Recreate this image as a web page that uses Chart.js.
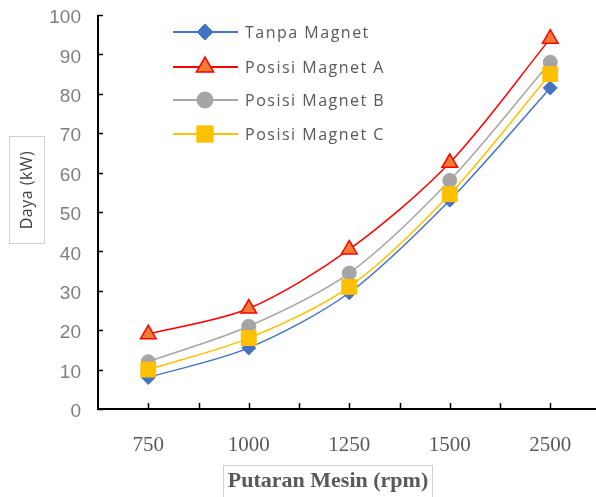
<!DOCTYPE html>
<html>
<head>
<meta charset="utf-8">
<script src="https://cdn.jsdelivr.net/npm/chart.js@4/dist/chart.umd.min.js"></script>
<style>
  html, body { margin: 0; padding: 0; background: #ffffff; overflow: hidden; }
  #wrap { width: 596px; height: 497px; overflow: hidden; }
</style>
</head>
<body>
<div id="wrap"><canvas id="c" width="612" height="497"></canvas></div>
<script>
const categories = ['750', '1000', '1250', '1500', '2500'];
const tanpaMagnet = [8, 15.5, 29.5, 53, 81.5];
const posisiA = [19, 25.5, 40.5, 62.5, 94];
const posisiB = [12, 21, 34.5, 58, 88];
const posisiC = [10, 18, 31, 54.5, 85];
const seriesNames = ['Tanpa Magnet', 'Posisi Magnet A', 'Posisi Magnet B', 'Posisi Magnet C'];
const yMin = 0, yMax = 100, yStep = 10;
const xTitle = 'Putaran Mesin (rpm)';
const yTitle = 'Daya (kW)';

const styles = [
  { line: '#4472C4', fill: '#4472C4', border: '#4472C4', point: 'rectRot', r: 7, bw: 1, order: 3 },
  { line: '#FF0000', fill: '#ED7D31', border: '#FF0000', point: 'triangle', r: 9, bw: 1.5, order: 2 },
  { line: '#A5A5A5', fill: '#A5A5A5', border: '#A5A5A5', point: 'circle', r: 7, bw: 1, order: 1 },
  { line: '#FFC000', fill: '#FFC000', border: '#FFC000', point: 'rect', r: 10.5, bw: 1, order: 0 }
];
const seriesData = [tanpaMagnet, posisiA, posisiB, posisiC];

const datasets = seriesData.map((d, i) => ({
  label: seriesNames[i],
  data: d,
  borderColor: styles[i].line,
  backgroundColor: styles[i].fill,
  pointBackgroundColor: styles[i].fill,
  pointBorderColor: styles[i].border,
  pointBorderWidth: styles[i].bw,
  pointStyle: styles[i].point,
  pointRadius: styles[i].r,
  pointHoverRadius: styles[i].r,
  borderWidth: 1.5,
  tension: 0.3,
  order: styles[i].order,
  fill: false,
  clip: false
}));

const decorPlugin = {
  id: 'decor',
  afterDraw(chart) {
    const ctx = chart.ctx;
    const area = chart.chartArea;
    const xs = chart.scales.x, ys = chart.scales.y;
    ctx.save();
    // axis lines
    ctx.strokeStyle = '#000000';
    ctx.lineWidth = 2;
    ctx.beginPath();
    ctx.moveTo(area.left, area.top);
    ctx.lineTo(area.left, area.bottom);
    ctx.lineTo(area.right + 12, area.bottom);
    ctx.stroke();
    // inward ticks on y
    ctx.lineWidth = 1.5;
    ctx.beginPath();
    for (let v = yMin; v <= yMax; v += yStep) {
      const py = Math.round(ys.getPixelForValue(v)) + 0.5;
      ctx.moveTo(area.left, py);
      ctx.lineTo(area.left + 5, py);
    }
    // inward ticks on x: centers and boundaries
    const half = (xs.getPixelForValue(1) - xs.getPixelForValue(0)) / 2;
    for (let i = 0; i < categories.length; i++) {
      const c = xs.getPixelForValue(i);
      [c, c + half].forEach(px => {
        px = Math.round(px) + 0.5;
        ctx.moveTo(px, area.bottom);
        ctx.lineTo(px, area.bottom - 6);
      });
    }
    ctx.stroke();

    // legend
    const lx0 = 173, lx1 = 238, mx = 205, tx = 245;
    const rows = [32, 67, 100, 134];
    ctx.font = '16px "Open Sans"';
    ctx.letterSpacing = '1.5px';
    ctx.textBaseline = 'middle';
    ctx.textAlign = 'left';
    seriesNames.forEach((name, i) => {
      const y = rows[i];
      ctx.strokeStyle = styles[i].line;
      ctx.lineWidth = 2;
      ctx.beginPath();
      ctx.moveTo(lx0, y);
      ctx.lineTo(lx1, y);
      ctx.stroke();
      ctx.fillStyle = styles[i].fill;
      ctx.strokeStyle = styles[i].border;
      ctx.lineWidth = styles[i].bw;
      Chart.helpers.drawPoint(ctx, { pointStyle: styles[i].point, radius: styles[i].r + 1, borderWidth: styles[i].bw, rotation: 0 }, mx, y);
      ctx.fillStyle = '#595959';
      ctx.fillText(name, tx, y + 1);
    });

    // y title box
    ctx.strokeStyle = '#D0D0D0';
    ctx.lineWidth = 1;
    ctx.strokeRect(9.5, 136.5, 35, 107);
    ctx.save();
    ctx.translate(27, 190);
    ctx.rotate(-Math.PI / 2);
    ctx.font = '16px "Open Sans"';
    ctx.letterSpacing = '0.5px';
    ctx.fillStyle = '#404040';
    ctx.textAlign = 'center';
    ctx.textBaseline = 'middle';
    ctx.fillText(yTitle, 0, 0);
    ctx.restore();

    // x title box
    ctx.letterSpacing = '0px';
    ctx.strokeStyle = '#D0D0D0';
    ctx.strokeRect(223.5, 465.5, 209, 40);
    ctx.font = 'bold 22px "Liberation Serif"';
    ctx.fillStyle = '#595959';
    ctx.textAlign = 'center';
    ctx.textBaseline = 'middle';
    ctx.fillText(xTitle, 328, 481);
    ctx.restore();
  }
};

new Chart(document.getElementById('c'), {
  type: 'line',
  data: { labels: categories, datasets: datasets },
  options: {
    responsive: false,
    animation: false,
    events: [],
    layout: { padding: { top: 15, right: 0, left: 0, bottom: 0 } },
    plugins: { legend: { display: false }, tooltip: { enabled: false } },
    scales: {
      x: {
        type: 'category',
        offset: true,
        grid: { display: false, drawTicks: false },
        border: { display: false },
        ticks: {
          color: '#595959',
          font: { family: '"Liberation Serif"', size: 21 },
          padding: 24,
          maxRotation: 0,
          autoSkip: false
        },
        afterFit(s) { s.height = 88; s.paddingLeft = 0; s.paddingRight = 0; }
      },
      y: {
        min: yMin,
        max: yMax,
        grid: { display: false, drawTicks: false },
        border: { display: false },
        ticks: {
          stepSize: yStep,
          color: '#7F7F7F',
          font: { family: '"Liberation Sans"', size: 19 },
          padding: 17,
          labelOffset: 3
        },
        afterFit(s) { s.width = 98; s.paddingTop = 0; s.paddingBottom = 0; }
      }
    }
  },
  plugins: [decorPlugin]
});
</script>
</body>
</html>
